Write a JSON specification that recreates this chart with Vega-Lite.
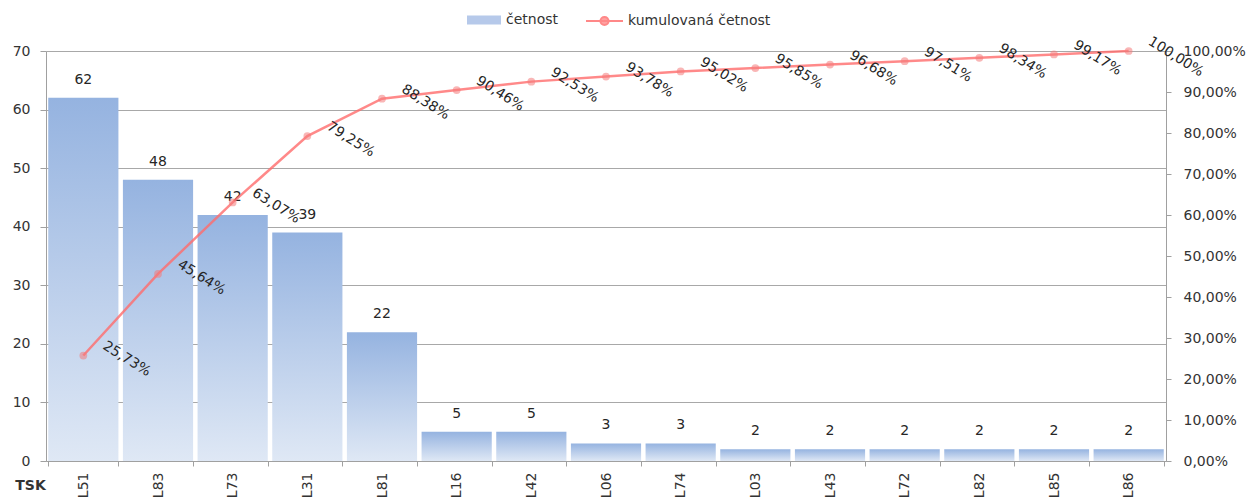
{
  "$schema": "https://vega.github.io/schema/vega-lite/v6.json",
  "autosize": {"type": "none"},
  "width": 1120,
  "height": 410,
  "padding": {"left": 46, "top": 51, "right": 81, "bottom": 36},
  "background": "white",
  "config": {
    "locale": {"number": {"decimal": ",", "thousands": " ", "grouping": [3], "currency": ["", " Kč"]}},
    "font": "DejaVu Sans",
    "view": {"stroke": null},
    "axis": {"labelFont": "DejaVu Sans", "labelFontSize": 14, "labelColor": "#333333", "domainColor": "#a0a0a0", "tickColor": "#a0a0a0", "gridColor": "#a8a8a8", "gridOpacity": 1},
    "legend": {"labelFont": "DejaVu Sans", "labelFontSize": 14, "labelColor": "#333333", "padding": 0}
  },
  "data": {"values": [
    {"tsk": "L51", "count": 62, "kum": 0.2573},
    {"tsk": "L83", "count": 48, "kum": 0.4564},
    {"tsk": "L73", "count": 42, "kum": 0.6307},
    {"tsk": "L31", "count": 39, "kum": 0.7925},
    {"tsk": "L81", "count": 22, "kum": 0.8838},
    {"tsk": "L16", "count": 5, "kum": 0.9046},
    {"tsk": "L42", "count": 5, "kum": 0.9253},
    {"tsk": "L06", "count": 3, "kum": 0.9378},
    {"tsk": "L74", "count": 3, "kum": 0.9502},
    {"tsk": "L03", "count": 2, "kum": 0.9585},
    {"tsk": "L43", "count": 2, "kum": 0.9668},
    {"tsk": "L72", "count": 2, "kum": 0.9751},
    {"tsk": "L82", "count": 2, "kum": 0.9834},
    {"tsk": "L85", "count": 2, "kum": 0.9917},
    {"tsk": "L86", "count": 2, "kum": 1.0}
  ]},
  "encoding": {
    "x": {
      "field": "tsk", "type": "nominal", "sort": null,
      "scale": {"paddingInner": 0.06, "paddingOuter": 0.03},
      "axis": {
        "title": "TSK", "titleFont": "DejaVu Sans", "titleFontSize": 14, "titleFontWeight": "bold", "titleColor": "#333333",
        "titleAngle": 0, "titleAlign": "center", "titleBaseline": "middle", "titleX": -16, "titleY": 24,
        "labelAngle": 270, "labelPadding": 6, "tickSize": 5, "tickBand": "extent", "grid": false
      }
    }
  },
  "layer": [
    {
      "encoding": {
        "y": {"field": "count", "type": "quantitative",
          "scale": {"domain": [0, 70], "nice": false},
          "axis": {"title": null, "values": [0, 10, 20, 30, 40, 50, 60, 70], "grid": true, "tickSize": 6, "labelPadding": 10, "orient": "left"}}
      },
      "layer": [
        {
          "mark": {"type": "bar", "fill": {"gradient": "linear", "x1": 0, "y1": 0, "x2": 0, "y2": 1, "stops": [{"offset": 0, "color": "#95b3e0"}, {"offset": 1, "color": "#dfe8f5"}]}}
        },
        {
          "mark": {"type": "square", "opacity": 0},
          "encoding": {
            "fill": {"datum": "četnost", "type": "nominal",
              "scale": {"range": ["#b6c9ea"]},
              "legend": {"title": null, "orient": "none", "legendX": 421, "legendY": -48, "symbolType": "M-1,-0.27H1V0.27H-1Z", "symbolSize": 1156, "symbolStrokeWidth": 0, "symbolOpacity": 1, "labelOffset": 5,
                "encode": {"symbols": {"update": {"fill": {"value": {"gradient": "linear", "x1": 0, "y1": 0, "x2": 0, "y2": 1, "stops": [{"offset": 0, "color": "#95b3e0"}, {"offset": 1, "color": "#dfe8f5"}]}}, "opacity": {"value": 1}}}}}}
          }
        },
        {
          "mark": {"type": "text", "baseline": "middle", "align": "center", "dy": -18, "fontSize": 14, "color": "#262626"},
          "encoding": {"text": {"field": "count", "type": "quantitative"}}
        }
      ]
    },
    {
      "encoding": {
        "y": {"field": "kum", "type": "quantitative",
          "scale": {"domain": [0, 1], "nice": false},
          "axis": {"title": null, "orient": "right", "format": ".2%", "values": [0, 0.1, 0.2, 0.3, 0.4, 0.5, 0.6, 0.7, 0.8, 0.9, 1], "grid": false, "tickSize": 5, "labelPadding": 12}}
      },
      "layer": [
        {
          "mark": {"type": "line", "strokeWidth": 2.5, "opacity": 0.8},
          "encoding": {
            "stroke": {"datum": "kumulovaná četnost", "type": "nominal",
              "scale": {"range": ["#ff6b6b"]},
              "legend": {"title": null, "orient": "none", "legendX": 539, "legendY": -49.5, "symbolType": "M-1,0H1M0.22,0A0.22,0.22,0,1,1,-0.22,0A0.22,0.22,0,1,1,0.22,0", "symbolSize": 1369, "symbolStrokeWidth": 2, "symbolFillColor": "#ff8a8a", "symbolOpacity": 0.8, "labelOffset": 4}}
          }
        },
        {
          "mark": {"type": "point", "shape": "circle", "filled": true, "size": 60, "color": "#f47a7a", "opacity": 0.55}
        },
        {
          "mark": {"type": "text", "angle": 32, "align": "left", "baseline": "middle", "dx": 12, "dy": -20, "fontSize": 14, "color": "#262626"},
          "encoding": {"text": {"field": "kum", "type": "quantitative", "format": ".2%"}}
        }
      ]
    }
  ],
  "resolve": {"scale": {"y": "independent"}}
}
